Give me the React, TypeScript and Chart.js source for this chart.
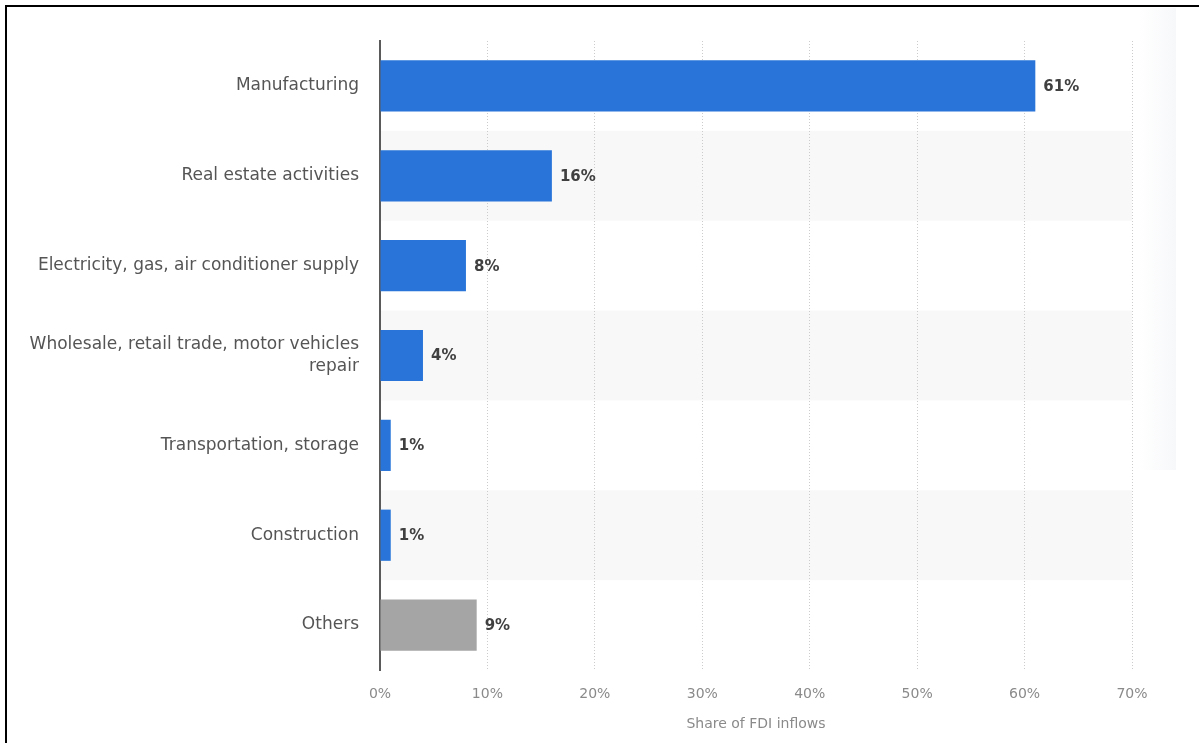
import React, { useEffect, useRef } from "react";
import { Chart, registerables } from "chart.js";

Chart.register(...registerables);

const categories: (string | string[])[] = [
  "Manufacturing",
  "Real estate activities",
  "Electricity, gas, air conditioner supply",
  ["Wholesale, retail trade, motor vehicles", "repair"],
  "Transportation, storage",
  "Construction",
  "Others",
];
const shares = [61, 16, 8, 4, 1, 1, 9];
const barColors = ["#2874d9", "#2874d9", "#2874d9", "#2874d9", "#2874d9", "#2874d9", "#a5a5a5"];
const xTicks = [0, 10, 20, 30, 40, 50, 60, 70];
const axisTitle = "Share of FDI inflows";
const FONT = "'DejaVu Sans', 'Open Sans', sans-serif";

const bandPlugin = {
  id: "bands",
  beforeDraw(chart: any) {
    const { ctx, chartArea, scales } = chart;
    const y = scales.y;
    const n = categories.length;
    const band = (chartArea.bottom - chartArea.top) / n;
    ctx.save();
    ctx.fillStyle = "#f8f8f8";
    for (let i = 1; i < n; i += 2) {
      const c = y.getPixelForValue(i);
      ctx.fillRect(chartArea.left, c - band / 2, chartArea.right - chartArea.left, band);
    }
    ctx.restore();
  },
};

const labelPlugin = {
  id: "valueLabels",
  afterDatasetsDraw(chart: any) {
    const { ctx } = chart;
    const meta = chart.getDatasetMeta(0);
    ctx.save();
    ctx.font = `bold 15px ${FONT}`;
    ctx.fillStyle = "#404040";
    ctx.textAlign = "left";
    ctx.textBaseline = "middle";
    meta.data.forEach((el: any, i: number) => {
      ctx.fillText(`${shares[i]}%`, el.x + 8, el.y + 1);
    });
    ctx.restore();
  },
};

export default function App() {
  const ref = useRef<HTMLCanvasElement>(null);
  useEffect(() => {
    if (!ref.current) return;
    const chart = new Chart(ref.current, {
      type: "bar",
      data: {
        labels: categories as any,
        datasets: [
          {
            data: shares,
            backgroundColor: barColors,
            borderWidth: 0,
            categoryPercentage: 1,
            barPercentage: 0.57,
          },
        ],
      },
      options: {
        indexAxis: "y",
        responsive: false,
        animation: false,
        devicePixelRatio: 1,
        layout: { padding: { top: 41, right: 67, left: 0, bottom: 10 } },
        plugins: { legend: { display: false }, tooltip: { enabled: false } },
        scales: {
          x: {
            min: 0,
            max: 70,
            afterFit: (s: any) => {
              s.height = 63;
            },
            afterBuildTicks: (s: any) => {
              s.ticks = xTicks.map((v) => ({ value: v }));
            },
            grid: {
              color: "#cccccc",
              lineWidth: 1,
              drawTicks: false,
              tickLength: 0,
            },
            border: { display: false, dash: [1, 2] },
            ticks: {
              padding: 16,
              color: "#8a8a8a",
              font: { family: FONT, size: 14 },
              callback: (v: any) => `${v}%`,
            },
            title: {
              display: true,
              text: axisTitle,
              color: "#8a8a8a",
              font: { family: FONT, size: 14 },
              padding: { top: 0, bottom: 0 },
            },
          },
          y: {
            afterFit: (s: any) => {
              s.width = 380;
            },
            grid: { display: false, drawTicks: false, tickLength: 0 },
            border: { display: true, color: "#5a5a5a", width: 2 },
            ticks: {
              padding: 21,
              color: "#555555",
              font: { family: FONT, size: 17, lineHeight: 1.3 },
            },
          },
        },
      },
      plugins: [bandPlugin, labelPlugin],
    });
    return () => chart.destroy();
  }, []);

  return (
    <div
      style={{
        position: "absolute",
        left: 0,
        top: 0,
        width: 1199,
        height: 743,
        background: "#ffffff",
        overflow: "hidden",
      }}
    >
      <div
        style={{
          position: "absolute",
          left: 1140,
          top: 8,
          width: 36,
          height: 462,
          background: "linear-gradient(to right, #ffffff, #f7f8fa)",
        }}
      />
      <canvas
        ref={ref}
        width={1199}
        height={743}
        style={{ position: "absolute", left: 0, top: 0, width: 1199, height: 743 }}
      />
      <div style={{ position: "absolute", left: 5, top: 5, width: 1194, height: 2, background: "#000" }} />
      <div style={{ position: "absolute", left: 5, top: 5, width: 2, height: 738, background: "#000" }} />
    </div>
  );
}
